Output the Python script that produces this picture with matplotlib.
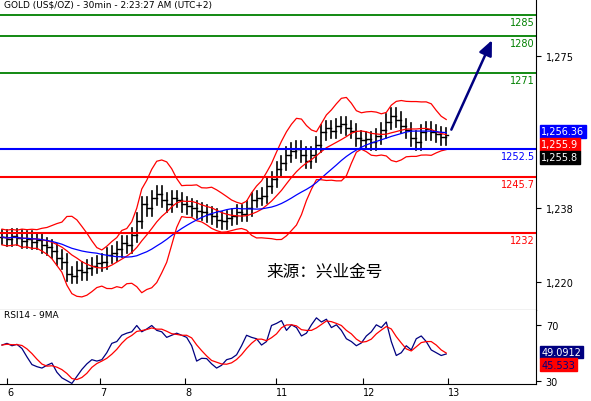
import numpy as np
import pandas as pd
import matplotlib.pyplot as plt

# 30min gold closes (one bar ~ 5px)
closes = [1231, 1230.5, 1231.2, 1230.8, 1230, 1230.6, 1229.8, 1230.2, 1229, 1228.5, 1227.6,
          1226, 1225, 1222, 1221.5, 1223, 1222.4, 1223.5, 1224, 1224.6, 1225,
          1226.5, 1227, 1228, 1229.5, 1229, 1231.5, 1235, 1239, 1238, 1240.5,
          1241.5, 1240, 1239, 1240.5, 1240, 1239, 1238.5, 1238, 1237.4, 1237,
          1236.5, 1236, 1235.2, 1234.8, 1235.6, 1236, 1237, 1236.6, 1238, 1240,
          1240.5, 1241, 1243.5, 1245, 1247.5, 1249, 1251, 1252, 1252.5, 1251,
          1249.5, 1251, 1253.5, 1256.5, 1257.5, 1256.8, 1258, 1258.5, 1257.5, 1256.8,
          1255, 1254.5, 1254.8, 1254, 1255.5, 1257, 1259, 1260.5, 1259.5, 1258,
          1257, 1255, 1254, 1256.5, 1257.2, 1256.5, 1256, 1255.3, 1255.8]
rsi = [55.5, 56.7, 55, 56, 53, 47, 41.5, 40, 39, 41, 42.6,
       36, 32, 30, 28, 33, 38, 42, 45, 44, 45,
       50, 56.7, 58, 62.5, 64, 65, 69.5, 65, 67, 69.5,
       66, 65, 61, 62.5, 64, 62.5, 61, 55, 44, 46,
       45.8, 42, 39, 41, 45, 46, 48.5, 55, 62.5, 61,
       60, 55.5, 58, 69.5, 71, 73, 66, 70, 68, 62,
       64, 70, 75, 72, 74, 68, 70, 66, 60, 58,
       55, 57, 62, 65, 70, 68, 72, 58, 48, 50,
       55, 52, 60, 62, 58, 52, 50, 48, 49.1]
day_ticks = [1, 19.7, 36.7, 54.8, 72.3, 89.4]
day_labels = ["6", "7", "8", "11", "12", "13"]
green_levels = [1285, 1280, 1271]
blue_levels = [1252.5]
red_levels = [1245.7, 1232]
price_ticks = [1220, 1238, 1275]

s = pd.Series(closes)
opens = s.shift(1).fillna(s.iloc[0])
highs = np.maximum(opens, s) + 1.8
lows = np.minimum(opens, s) - 1.8
mid = s.rolling(9, min_periods=1).mean()
sd = s.rolling(9, min_periods=2).std().bfill()
ma_slow = s.rolling(20, min_periods=1).mean()
r = pd.Series(rsi)
rsi_ma = r.rolling(4, min_periods=1).mean()

fig = plt.figure(figsize=(5.91, 4.02), dpi=100)
ax = fig.add_axes([0, 0.226, 0.907, 0.774])
ax2 = fig.add_axes([0, 0.042, 0.907, 0.184], sharex=ax)
x = np.arange(len(closes))

for i in x:
    ax.plot([i, i], [lows[i], highs[i]], color="black", lw=1.2)
    ax.plot([i - 0.4, i], [opens[i], opens[i]], color="black", lw=1)
    ax.plot([i, i + 0.4], [closes[i], closes[i]], color="black", lw=1)
ax.plot(x, mid, color="red", lw=0.9)
ax.plot(x, mid + 2.6 * sd + 1, color="red", lw=0.9)
ax.plot(x, mid - 2.6 * sd - 1, color="red", lw=0.9)
ax.plot(x, ma_slow, color="blue", lw=0.9)

xr = 106.8
for lv in green_levels:
    ax.axhline(lv, color="green", lw=1.3)
    ax.text(xr, lv - 0.6, str(lv), color="green", fontsize=7, ha="right", va="top")
for lv in blue_levels:
    ax.axhline(lv, color="blue", lw=1.5)
    ax.text(xr, lv - 0.6, str(lv), color="blue", fontsize=7, ha="right", va="top")
for lv in red_levels:
    ax.axhline(lv, color="red", lw=1.5)
    ax.text(xr, lv - 0.6, str(lv), color="red", fontsize=7, ha="right", va="top")

ax.annotate("", xy=(98.4, 1279.5), xytext=(89.8, 1256.5),
            arrowprops=dict(arrowstyle="-|>,head_length=0.9,head_width=0.4", color="#000080", lw=1.8))
ax.text(0.5, 1287.8, "GOLD (US$/OZ) - 30min - 2:23:27 AM (UTC+2)", fontsize=6.5, va="center")
ax.text(53, 1221.5, "来源：兴业金号", fontsize=12, family=["Noto Sans CJK SC", "DejaVu Sans"])

ax.set_xlim(-0.4, 107)
ax.set_ylim(1213.2, 1288.9)
ax.yaxis.tick_right()
ax.set_yticks(price_ticks)
ax.set_yticklabels(["{:,}".format(t) for t in price_ticks], fontsize=7)
ax.tick_params(axis="x", bottom=False, labelbottom=False)
for sp in ["top", "left"]:
    ax.spines[sp].set_visible(False)

boxes = [(1256.7, "1,256.36", "blue"), (1253.6, "1,255.9", "red"), (1250.4, "1,255.8", "black")]
for yv, txt, c in boxes:
    ax.text(1.01, yv, txt, transform=ax.get_yaxis_transform(), fontsize=7, color="white",
            va="center", ha="left", bbox=dict(boxstyle="square,pad=0.15", fc=c, ec=c), clip_on=False)

ax2.plot(x, r, color="#000080", lw=0.9)
ax2.plot(x, rsi_ma, color="red", lw=0.9)
ax2.set_ylim(27.5, 80.5)
ax2.yaxis.tick_right()
ax2.set_yticks([30, 70])
ax2.set_yticklabels(["30", "70"], fontsize=7)
ax2.set_xticks(day_ticks)
ax2.set_xticklabels(day_labels, fontsize=7, ha="left")
ax2.tick_params(axis="x", direction="in", length=4, pad=2)
ax2.spines["top"].set_visible(False)
ax2.spines["left"].set_visible(False)
ax2.text(0.5, 77.5, "RSI14 - 9MA", fontsize=6.5, va="center")
ax2.text(1.01, 50.5, "49.0912", transform=ax2.get_yaxis_transform(), fontsize=7, color="white",
         va="center", bbox=dict(boxstyle="square,pad=0.15", fc="#000080", ec="#000080"), clip_on=False)
ax2.text(1.01, 41.5, "45.533", transform=ax2.get_yaxis_transform(), fontsize=7, color="#000080",
         va="center", bbox=dict(boxstyle="square,pad=0.15", fc="red", ec="red"), clip_on=False)

fig.savefig("out.png", dpi=100)
